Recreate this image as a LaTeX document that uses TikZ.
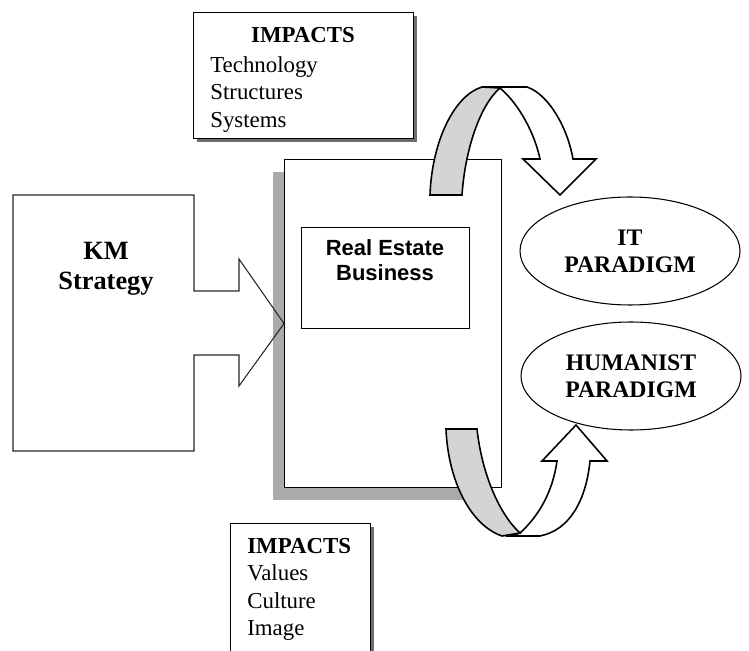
\documentclass[tikz,border=0pt]{standalone}
\usepackage{fontspec}
\setmainfont{Liberation Serif}
\setsansfont{Liberation Sans}
\usetikzlibrary{positioning,shapes.geometric,shadows}

\definecolor{edgegray}{RGB}{110,110,110}
\definecolor{stipplegray}{RGB}{170,170,170}
\definecolor{ribbongray}{RGB}{212,212,212}

\begin{document}
\begin{tikzpicture}[
        x=0.2mm, y=-0.2mm,
        impactbox/.style={rectangle, draw=black, fill=white, line width=0.6pt, anchor=north west, inner sep=0pt, general shadow={fill=edgegray, shadow xshift=0.6mm, shadow yshift=-0.6mm}},
        impacttext/.style={anchor=north west, align=left, inner sep=0pt, font=\fontsize{13}{15.6}\selectfont},
        businessbox/.style={rectangle, draw=black, fill=white, line width=0.6pt, anchor=north west, inner sep=0pt, general shadow={fill=stipplegray, shadow xshift=-2.4mm, shadow yshift=-2.4mm}},
        paradigm/.style={ellipse, draw=black, line width=0.6pt, minimum width=44mm, minimum height=21.6mm, inner sep=0pt, align=center, font=\bfseries\fontsize{13.5}{15.4}\selectfont},
        outline/.style={draw=black!85, line width=0.6pt},
        ribbon/.style={draw=black, line width=0.9pt, fill=white},
        ribbonback/.style={draw=black, line width=0.9pt, fill=ribbongray}
    ]
    \useasboundingbox (0,0) rectangle (749,651);

    % Impact boxes
    \node[impactbox, minimum width=44mm, minimum height=25.2mm] (topimpact) at (193,12) {};
    \node[font=\bfseries\fontsize{13}{15.6}\selectfont, anchor=base, inner sep=0pt] (topheading) at (303,43) {IMPACTS};
    \node[impacttext] (toplist) at (210,56) {Technology\\ Structures\\ Systems};

    \node[impactbox, minimum width=28mm, minimum height=28mm] (bottomimpact) at (230,523) {};
    \node[impacttext] (bottomlist) at (247,538) {\textbf{IMPACTS}\\ Values\\ Culture\\ Image};

    % Business
    \node[businessbox, minimum width=43.4mm, minimum height=65.6mm] (business) at (284,159) {};
    \node[rectangle, draw=black, line width=0.6pt, anchor=north west, minimum width=33.6mm, minimum height=20.2mm, inner sep=0pt] (realestate) at (301,227) {};
    \node[font=\sffamily\bfseries\fontsize{12.5}{14.2}\selectfont, align=center, anchor=north, inner sep=0pt] (realestatetext) at (385,239) {Real Estate\\ Business};

    % KM Strategy
    \draw[outline] (13,195) -- (194,195) -- (194,291) -- (239,291) -- (239,259) -- (business.west) -- (239,386) -- (239,355) -- (194,355) -- (194,451) -- (13,451) -- cycle;
    \node[font=\bfseries\fontsize{15}{17}\selectfont, align=center, inner sep=0pt] (kmtext) at (106,269) {KM\\ Strategy};

    % Paradigms
    \node[paradigm] (itpar) at (630,251) {IT\\ PARADIGM};
    \node[paradigm] (humpar) at (631,376) {HUMANIST\\ PARADIGM};

    % Ribbon arrows
    \filldraw[ribbon] (482,87) -- (527,87) .. controls (550,95) and (568,130) .. (573,159) -- (596,159) -- (560,195) -- (523,159) -- (540,159) .. controls (535,135) and (520,105) .. (500,88) -- cycle;
    \filldraw[ribbonback] (430,195) .. controls (432,140) and (455,95) .. (482,87) -- (500,88) .. controls (480,105) and (465,150) .. (462,195) -- cycle;

    \filldraw[ribbon] (510,536) -- (540,536) .. controls (570,530) and (586,500) .. (590,461) -- (607,461) -- (576,425) -- (542,461) -- (557,461) .. controls (553,490) and (540,515) .. (520,533) -- cycle;
    \filldraw[ribbonback] (446,429) -- (477,429) .. controls (482,475) and (500,515) .. (520,533) -- (502,536) .. controls (470,525) and (448,480) .. (446,429) -- cycle;

\end{tikzpicture}
\end{document}
